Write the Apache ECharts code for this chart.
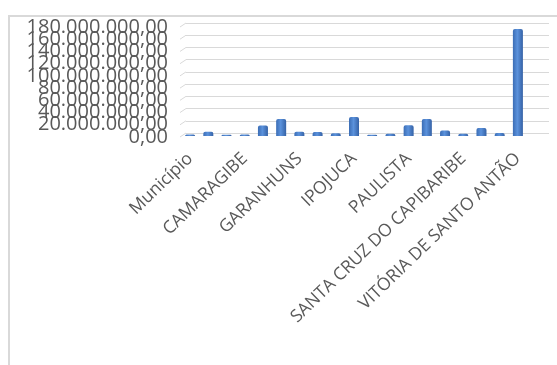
<!DOCTYPE html>
<html>
<head>
<meta charset="utf-8">
<script src="https://cdn.jsdelivr.net/npm/echarts@6/dist/echarts.min.js"></script>
<style>
  html, body { margin: 0; padding: 0; background: #fff; }
  #chart { width: 557px; height: 365px; }
</style>
</head>
<body>
<div id="chart"></div>
<script>
// municipios (only every third name is shown on the axis)
const municipios = [
  'Município', 'ABREU E LIMA', 'CABO DE SANTO AGOSTINHO', 'CAMARAGIBE', 'CARUARU',
  'ESCADA', 'GARANHUNS', 'GOIANA', 'IGARASSU', 'IPOJUCA', 'JABOATÃO DOS GUARARAPES',
  'OLINDA', 'PAULISTA', 'PETROLINA', 'RECIFE', 'SANTA CRUZ DO CAPIBARIBE',
  'SÃO LOURENÇO DA MATA', 'SERRA TALHADA', 'VITÓRIA DE SANTO ANTÃO'
];
const valores = [
  2500000, 7000000, 2000000, 2500000, 17000000,
  28000000, 7000000, 6500000, 4500000, 31000000,
  2000000, 3500000, 17500000, 28000000, 9000000,
  3500000, 13000000, 5000000, 175000000
];
const yTicks = [0, 20000000, 40000000, 60000000, 80000000, 100000000,
  120000000, 140000000, 160000000, 180000000];
const yMin = 0;
const yMax = 180000000;
const yStep = 20000000;

function fmt(v) {
  const s = Math.round(v).toString().replace(/\B(?=(\d{3})+(?!\d))/g, '.');
  return s + ',00';
}

const chart = echarts.init(document.getElementById('chart'));
const gray = '#d9d9d9';
const textGray = '#595959';

chart.setOption({
  animation: false,
  grid: [
    // back wall (gridlines)
    { left: 186, right: 8, top: 23, height: 110 },
    // front plane (bars + labels)
    { left: 181, width: 346, top: 26, height: 110 }
  ],
  xAxis: [
    { gridIndex: 0, type: 'category', data: municipios, show: false },
    {
      gridIndex: 1, type: 'category', data: municipios,
      axisLine: { show: false }, axisTick: { show: false },
      axisLabel: {
        interval: 2, rotate: 44, margin: 20, hideOverlap: false,
        color: textGray, fontFamily: 'Open Sans', fontSize: 17.5
      }
    }
  ],
  yAxis: [
    {
      gridIndex: 0, type: 'value', min: yMin, max: yMax, interval: yStep,
      axisLabel: { show: false }, axisLine: { show: false }, axisTick: { show: false },
      splitLine: { lineStyle: { color: gray, width: 1 } }
    },
    {
      gridIndex: 1, type: 'value', min: yMin, max: yMax, interval: yStep,
      axisLine: { show: false }, axisTick: { show: false }, splitLine: { show: false },
      axisLabel: { show: false }
    }
  ],
  series: [{
    type: 'bar',
    xAxisIndex: 1, yAxisIndex: 1,
    data: valores,
    barWidth: 10,
    itemStyle: {
      color: new echarts.graphic.LinearGradient(0, 0, 1, 0, [
        { offset: 0, color: '#3b6db5' },
        { offset: 0.45, color: '#5b92dc' },
        { offset: 1, color: '#3562a6' }
      ]),
      borderRadius: [2, 2, 0, 0]
    }
  }]
});

// frame, the slanted side-wall stubs and the (overlapping) value labels
const g = [];
g.push({
  type: 'polyline', silent: true,
  shape: { points: [[9, 365], [9, 16], [557, 16]] },
  style: { stroke: gray, lineWidth: 2, fill: null }
});
yTicks.forEach(function (v) {
  const back = chart.convertToPixel({ gridIndex: 0 }, [0, v]);
  const front = chart.convertToPixel({ gridIndex: 1 }, [0, v]);
  g.push({
    type: 'line', silent: true,
    shape: { x1: 180, y1: back[1] + 4, x2: 186, y2: back[1] },
    style: { stroke: gray, lineWidth: 1 }
  });
  g.push({
    type: 'text', silent: true,
    x: 168, y: front[1] + 1,
    style: {
      text: fmt(v), fill: textGray, font: '20px "Open Sans"',
      align: 'right', verticalAlign: 'middle'
    }
  });
});
chart.setOption({ graphic: g });
</script>
</body>
</html>
